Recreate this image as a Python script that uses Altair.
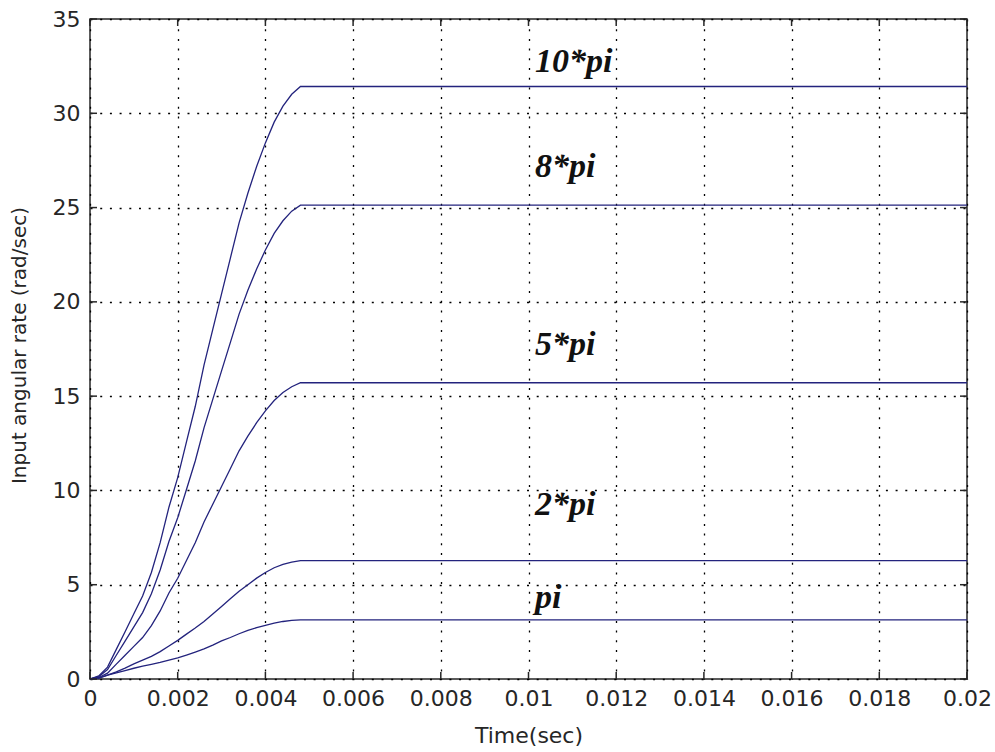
import altair as alt
import pandas as pd

# Sample times (s) for the simulated step responses
time_s = [0, 0.0002, 0.0004, 0.0006, 0.0008, 0.001, 0.0012, 0.0014, 0.0016,
          0.0018, 0.002, 0.0022, 0.0024, 0.0026, 0.0028, 0.003, 0.0032,
          0.0034, 0.0036, 0.0038, 0.004, 0.0042, 0.0044, 0.0046, 0.0048, 0.02]

# Input angular rate (rad/sec) for each commanded rate
rate_pi = [0, 0.05, 0.2, 0.33, 0.45, 0.57, 0.68, 0.78, 0.88, 1.0, 1.12, 1.27,
           1.43, 1.6, 1.8, 2.02, 2.2, 2.4, 2.58, 2.72, 2.85, 2.96, 3.05,
           3.11, 3.14, 3.14]
rate_2pi = [0, 0.05, 0.2, 0.38, 0.58, 0.8, 1.0, 1.2, 1.45, 1.75, 2.05, 2.38,
            2.7, 3.05, 3.45, 3.85, 4.25, 4.65, 5.0, 5.35, 5.65, 5.9, 6.08,
            6.2, 6.28, 6.28]
rate_5pi = [0, 0.08, 0.31, 0.79, 1.26, 1.73, 2.2, 2.83, 3.61, 4.56, 5.34, 6.28,
            7.23, 8.33, 9.27, 10.21, 11.15, 12.1, 12.88, 13.59, 14.22, 14.77,
            15.19, 15.5, 15.71, 15.71]
rate_8pi = [0, 0.13, 0.5, 1.26, 2.01, 2.76, 3.52, 4.52, 5.78, 7.29, 8.55, 10.05,
            11.56, 13.32, 14.83, 16.34, 17.84, 19.35, 20.61, 21.74, 22.75,
            23.63, 24.3, 24.81, 25.13, 25.13]
rate_10pi = [0, 0.16, 0.63, 1.57, 2.51, 3.46, 4.4, 5.65, 7.23, 9.11, 10.68,
             12.57, 14.45, 16.65, 18.54, 20.42, 22.31, 24.19, 25.76, 27.18,
             28.43, 29.53, 30.38, 31.01, 31.42, 31.42]

series = {"pi": rate_pi, "2*pi": rate_2pi, "5*pi": rate_5pi,
          "8*pi": rate_8pi, "10*pi": rate_10pi}

# Curve annotations
label_text = ["10*pi", "8*pi", "5*pi", "2*pi", "pi"]
label_t = [0.01015, 0.01015, 0.01015, 0.01015, 0.01015]
label_v = [32.18, 26.62, 17.18, 8.70, 3.76]

x_ticks = [0, 0.002, 0.004, 0.006, 0.008, 0.01, 0.012, 0.014, 0.016, 0.018, 0.02]
y_ticks = [0, 5, 10, 15, 20, 25, 30, 35]

W, H = 877, 660
LINE = "#23237d"
INK = "#262626"

rows = []
for name, vals in series.items():
    for t, v in zip(time_s, vals):
        rows.append({"t": t, "v": v, "s": name})
df = pd.DataFrame(rows)
labels = pd.DataFrame({"text": label_text, "t": label_t, "v": label_v})
xt = pd.DataFrame({"t": x_ticks})
yt = pd.DataFrame({"v": y_ticks})

xscale = alt.Scale(domain=[0, 0.02], nice=False, zero=False)
yscale = alt.Scale(domain=[0, 35], nice=False)

x_axis = alt.Axis(
    values=x_ticks, labelExpr="format(datum.value, '.3~f')",
    grid=True, gridDash=[2, 7.7], gridColor="#000", gridWidth=1.3,
    domain=False, ticks=False, labelPadding=9, labelFlush=False,
    labelFont="DejaVu Sans", labelFontSize=22, labelColor=INK,
    title="Time(sec)", titleFont="DejaVu Sans", titleFontSize=22,
    titleFontWeight="normal", titleColor=INK,
    titleBaseline="alphabetic", titleY=63,
)
y_axis = alt.Axis(
    values=y_ticks, grid=True, gridDash=[2, 7.7], gridColor="#000", gridWidth=1.3,
    domain=False, ticks=False, labelPadding=10, labelFlush=False,
    labelFont="DejaVu Sans", labelFontSize=22, labelColor=INK,
    title="Input angular rate (rad/sec)", titleFont="DejaVu Sans",
    titleFontSize=20, titleFontWeight="normal", titleColor=INK,
    titleBaseline="alphabetic", titleX=-65, titleY=326, titleAlign="center",
)

lines = alt.Chart(df).mark_line(color=LINE, strokeWidth=1.3).encode(
    x=alt.X("t:Q", scale=xscale, axis=x_axis),
    y=alt.Y("v:Q", scale=yscale, axis=y_axis),
    detail="s:N",
)

text = alt.Chart(labels).mark_text(
    font="Liberation Serif", fontSize=34, fontWeight="bold", fontStyle="italic",
    align="left", baseline="alphabetic", color="#111",
).encode(x=alt.X("t:Q", scale=xscale), y=alt.Y("v:Q", scale=yscale), text="text:N")

# Inward tick marks on all four sides of the box
tick_style = dict(color=INK, strokeWidth=1.5)
bottom_ticks = alt.Chart(xt).mark_rule(**tick_style).encode(
    x=alt.X("t:Q", scale=xscale), y=alt.value(H), y2=alt.value(H - 7))
top_ticks = alt.Chart(xt).mark_rule(**tick_style).encode(
    x=alt.X("t:Q", scale=xscale), y=alt.value(0), y2=alt.value(7))
left_ticks = alt.Chart(yt).mark_rule(**tick_style).encode(
    y=alt.Y("v:Q", scale=yscale), x=alt.value(0), x2=alt.value(7))
right_ticks = alt.Chart(yt).mark_rule(**tick_style).encode(
    y=alt.Y("v:Q", scale=yscale), x=alt.value(W), x2=alt.value(W - 7))

chart = alt.layer(
    lines, bottom_ticks, top_ticks, left_ticks, right_ticks, text
).properties(
    width=W, height=H,
    autosize=alt.AutoSizeParams(type="none"),
    padding={"left": 90, "top": 19, "right": 28, "bottom": 73},
    background="white",
).configure_view(stroke=INK, strokeWidth=1.5)

chart.save("out.html", embed_options={"renderer": "svg", "actions": False})
